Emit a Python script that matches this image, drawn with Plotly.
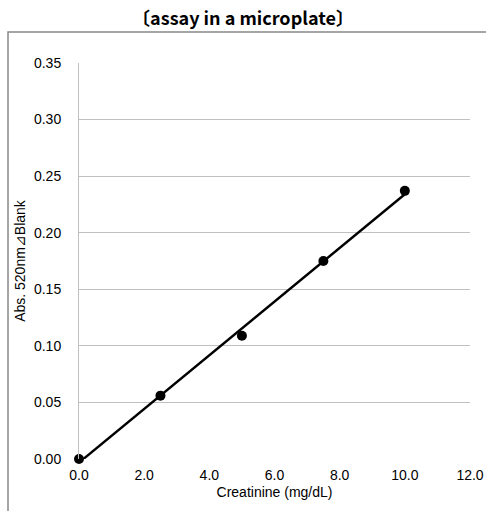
import numpy as np
import plotly.graph_objects as go

creatinine = [0.0, 2.5, 5.0, 7.5, 10.0]
absorbance = [0.000, 0.056, 0.109, 0.175, 0.237]
x_ticks = [0, 2, 4, 6, 8, 10, 12]
x_tick_labels = ["0.0", "2.0", "4.0", "6.0", "8.0", "10.0", "12.0"]
y_ticks = [0.00, 0.05, 0.10, 0.15, 0.20, 0.25, 0.30, 0.35]
y_tick_labels = ["0.00", "0.05", "0.10", "0.15", "0.20", "0.25", "0.30", "0.35"]

slope, intercept = np.polyfit(creatinine, absorbance, 1)
fit_x = [min(creatinine), max(creatinine)]
fit_y = [slope * v + intercept for v in fit_x]

W, H = 486, 511
L, R, T, B = 79, 16, 63, 52
pw, ph = W - L - R, H - T - B

fig = go.Figure()
fig.add_trace(go.Scatter(x=fit_x, y=fit_y, mode="lines",
                         line=dict(color="black", width=2.4),
                         hoverinfo="skip", showlegend=False))
fig.add_trace(go.Scatter(x=creatinine, y=absorbance, mode="markers",
                         marker=dict(color="black", size=10),
                         showlegend=False, cliponaxis=False))

font = "Liberation Sans, Arial, sans-serif"
fig.update_layout(
    width=W, height=H,
    margin=dict(l=L, r=R, t=T, b=B, autoexpand=False),
    paper_bgcolor="white", plot_bgcolor="white",
    title=dict(text="<b>〔assay in a microplate〕</b>", x=243 / W, xanchor="center",
               y=1 - 19 / H, yanchor="middle",
               font=dict(family="Noto Sans CJK JP, sans-serif", size=18, color="black")),
    xaxis=dict(range=[0, 12], tickvals=x_ticks, ticktext=x_tick_labels,
               showgrid=False, zeroline=False, showline=False, ticks="",
               ticklabelstandoff=6,
               tickfont=dict(family=font, size=14, color="black"),
               title=dict(text="Creatinine (mg/dL)", standoff=5,
                          font=dict(family=font, size=14, color="black"))),
    yaxis=dict(range=[0, 0.35], tickvals=y_ticks, ticktext=y_tick_labels,
               showgrid=True, gridcolor="#c0c0c0", gridwidth=1,
               zeroline=False, showline=True, linecolor="#c0c0c0", linewidth=1,
               ticks="", ticklabelstandoff=14,
               tickfont=dict(family=font, size=14, color="black"),
               title=dict(text="Abs. 520nm⊿Blank", standoff=5,
                          font=dict(family=font, size=14, color="black"))),
)

# outer chart frame (extends beyond the right and bottom edges)
fx0 = (8 - L) / pw
fy1 = (H - B - 32) / ph
fig.add_shape(type="rect", xref="paper", yref="paper",
              x0=fx0, x1=1.2, y0=-0.3, y1=fy1,
              line=dict(color="#888888", width=1.5), layer="below")

fig.write_html("out.html", config={"displayModeBar": False},
               post_script="document.body.style.margin='0';document.body.style.overflow='hidden';")
